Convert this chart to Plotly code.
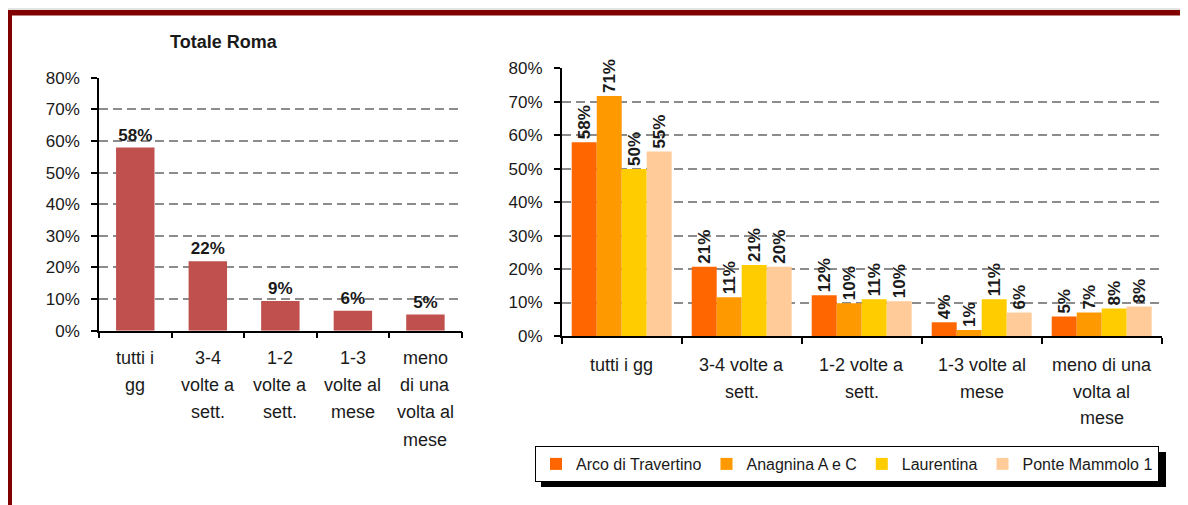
import plotly.graph_objects as go

# ---------------- data ----------------
categories = ["tutti i gg", "3-4 volte a sett.", "1-2 volte a sett.",
              "1-3 volte al mese", "meno di una volta al mese"]
left_lines = [["tutti i", "gg"], ["3-4", "volte a", "sett."], ["1-2", "volte a", "sett."],
              ["1-3", "volte al", "mese"], ["meno", "di una", "volta al", "mese"]]
right_lines = [["tutti i gg"], ["3-4 volte a", "sett."], ["1-2 volte a", "sett."],
               ["1-3 volte al", "mese"], ["meno di una", "volta al", "mese"]]

totale_roma = [57.9, 22.0, 9.4, 6.3, 5.1]
totale_roma_labels = ["58%", "22%", "9%", "6%", "5%"]

series_names = ["Arco di Travertino", "Anagnina A e C", "Laurentina", "Ponte Mammolo 1"]
arco = [57.9, 20.7, 12.2, 4.1, 5.8]
anagnina = [71.7, 11.6, 9.8, 1.8, 7.0]
laurentina = [49.9, 21.2, 11.0, 11.0, 8.2]
ponte = [55.1, 20.7, 10.4, 7.0, 8.8]
arco_labels = ["58%", "21%", "12%", "4%", "5%"]
anagnina_labels = ["71%", "11%", "10%", "1%", "7%"]
laurentina_labels = ["50%", "21%", "11%", "11%", "8%"]
ponte_labels = ["55%", "20%", "10%", "6%", "8%"]

y_ticks = [0, 10, 20, 30, 40, 50, 60, 70, 80]
y_tick_labels = ["0%", "10%", "20%", "30%", "40%", "50%", "60%", "70%", "80%"]

# ---------------- layout helpers ----------------
# the page body adds an 8px offset, so the figure is 8px smaller and shifted
OFF = 8
W, H = 1188 - OFF, 505 - OFF
def fx(px): return (px - OFF) / W
def fy(py): return 1 - (py - OFF) / H

FONT = "Liberation Sans, Arial, sans-serif"
TXT = "#1a1a1a"
series_colors = ["#FF6600", "#FF9900", "#FFCC00", "#FFCC99"]

fig = go.Figure()

fig.add_trace(go.Bar(
    x=categories, y=totale_roma, text=totale_roma_labels, textposition="outside",
    textfont=dict(family=FONT, size=17, color=TXT, weight="bold"),
    marker=dict(color="#C0504D", line=dict(width=0)), width=0.53,
    cliponaxis=False, constraintext="none", showlegend=False,
    xaxis="x", yaxis="y", hoverinfo="skip"))

for name, vals, labs, col in zip(series_names, [arco, anagnina, laurentina, ponte],
                                 [arco_labels, anagnina_labels, laurentina_labels, ponte_labels],
                                 series_colors):
    fig.add_trace(go.Bar(
        x=categories, y=vals, name=name, text=labs, textposition="outside", textangle=-90,
        textfont=dict(family=FONT, size=17, color=TXT, weight="bold"),
        marker=dict(color=col, line=dict(width=0)),
        cliponaxis=False, constraintext="none",
        xaxis="x2", yaxis="y2", hoverinfo="skip"))

yax = dict(range=[0, 80], tickmode="array", tickvals=y_ticks, ticktext=y_tick_labels,
           showgrid=True, gridcolor="#8c8c8c", gridwidth=1.5, griddash="9px,5px",
           zeroline=False, showline=True, linecolor="black", linewidth=1.5,
           ticks="outside", ticklen=6, tickcolor="black", tickwidth=1.5,
           ticklabelstandoff=8, automargin=False,
           tickfont=dict(family=FONT, size=17, color=TXT), fixedrange=True)
xax = dict(type="category", showline=True, linecolor="black", linewidth=1.5,
           ticks="outside", tickson="boundaries", ticklen=6, tickcolor="black",
           tickwidth=1.5, showticklabels=False, showgrid=False, fixedrange=True,
           automargin=False, range=[-0.5, 4.5])

annotations = [dict(text="<b>Totale Roma</b>", x=fx(224), y=fy(42), xref="paper", yref="paper",
                    xanchor="center", yanchor="middle", showarrow=False,
                    font=dict(family=FONT, size=18, color=TXT))]
for cat, lines in zip(categories, left_lines):
    for i, line in enumerate(lines):
        annotations.append(dict(text=line, x=cat, xref="x", y=fy(358 + 27.2 * i), yref="paper",
                                xanchor="center", yanchor="middle", showarrow=False,
                                font=dict(family=FONT, size=18, color=TXT)))
for cat, lines in zip(categories, right_lines):
    for i, line in enumerate(lines):
        annotations.append(dict(text=line, x=cat, xref="x2", y=fy(365 + 26.7 * i), yref="paper",
                                xanchor="center", yanchor="middle", showarrow=False,
                                font=dict(family=FONT, size=18, color=TXT)))

shapes = [
    # frame
    dict(type="line", xref="paper", yref="paper", x0=fx(7), x1=1.01, y0=fy(9), y1=fy(9),
         line=dict(color="#c8c8c8", width=1)),
    dict(type="rect", xref="paper", yref="paper", x0=fx(7), x1=1.01, y0=fy(15.5), y1=fy(10),
         fillcolor="#800000", line=dict(width=0)),
    dict(type="rect", xref="paper", yref="paper", x0=fx(7), x1=fx(12), y0=-0.02, y1=fy(10),
         fillcolor="#800000", line=dict(width=0)),
    # legend shadow
    dict(type="rect", xref="paper", yref="paper", x0=fx(541), x1=fx(1166), y0=fy(487), y1=fy(452),
         fillcolor="black", line=dict(width=0), layer="above"),
]

fig.update_layout(
    width=W, height=H, margin=dict(l=0, r=0, t=0, b=0, pad=0, autoexpand=False),
    paper_bgcolor="white", plot_bgcolor="white",
    barmode="group", bargap=0.167, bargroupgap=0,
    xaxis=dict(domain=[fx(99), fx(461.7)], anchor="y", **xax),
    yaxis=dict(domain=[fy(330.7), fy(77.7)], anchor="x", **yax),
    xaxis2=dict(domain=[fx(561.7), fx(1161.7)], anchor="y2", **xax),
    yaxis2=dict(domain=[fy(336), fy(68.3)], anchor="x2", **yax),
    legend=dict(orientation="h", x=fx(535), y=fy(446), xanchor="left", yanchor="top",
                bgcolor="white", bordercolor="black", borderwidth=1,
                font=dict(family=FONT, size=16, color=TXT), itemclick=False,
                itemdoubleclick=False),
    annotations=annotations, shapes=shapes, showlegend=True,
)

fig.write_html("out.html")
